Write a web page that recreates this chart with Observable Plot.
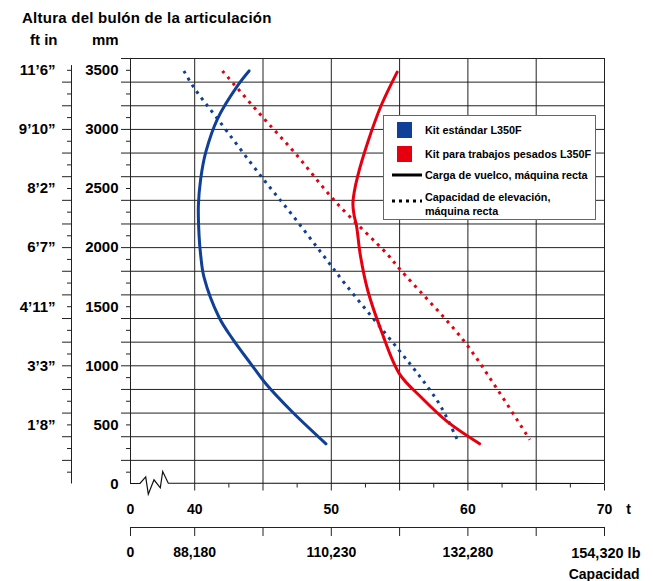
<!DOCTYPE html>
<html><head><meta charset="utf-8">
<script src="https://cdn.jsdelivr.net/npm/d3@7"></script>
<script src="https://cdn.jsdelivr.net/npm/@observablehq/plot@0.6"></script>
<style>
body{margin:0;background:#fff;font-family:"Liberation Sans",Arial,sans-serif;}
#wrap{position:relative;width:653px;height:581px;}
#legend{position:absolute;left:383px;top:115px;width:213px;height:105px;border:1px solid #666;background:#fff;font-weight:bold;font-size:10.8px;color:#000;box-sizing:border-box;}
#legend .sw{position:absolute;left:13px;width:15px;height:16px;}
#legend .tx{position:absolute;left:41px;transform:translateY(-50%);line-height:14px;white-space:nowrap;}
#legend svg{position:absolute;left:7px;}
</style></head><body><div id="wrap"></div>
<script>
// ---------- data ----------
const xBreak = 35.3;                       // axis break: shown as "0"
const tGrid = [40, 45, 50, 55, 60, 65, 70];
const tMinor = [42.5, 47.5, 52.5, 57.5, 62.5, 67.5];
const tLabelPos = [xBreak, 40, 50, 60, 70];
const tLabels = ["0", "40", "50", "60", "70"];
const lbTickPos = [xBreak, 40, 45, 50, 55, 60, 65, 70];
const lbLabels = ["0", "88,180", "110,230", "132,280", "154,320"];
const mmGrid = [200,400,600,800,1000,1200,1400,1600,1800,2000,2200,2400,2600,2800,3000,3200,3400,3600];
const mmMinor = [100,300,500,700,900,1100,1300,1500,1700,1900,2100,2300,2500,2700,2900,3100,3300,3500];
const mmLabelPos = [0, 500, 1000, 1500, 2000, 2500, 3000, 3500];
const ftLabelPos = [500, 1000, 1500, 2000, 2500, 3000, 3500];
const ftLabels = ["1’8”", "3’3”", "4’11”", "6’7”", "8’2”", "9’10”", "11’6”"];
const ftAxisTop = 3540;

// Kit estándar, carga de vuelco (solid blue)
const stdTipT  = [43.98, 43.18, 41.67, 40.81, 40.44, 40.27, 40.32, 40.44, 40.68, 41.78, 42.77, 44.11, 45.21, 47.04, 49.61];
const stdTipMm = [3495, 3377, 3090, 2807, 2582, 2356, 2102, 1933, 1750, 1411, 1228, 1017, 848, 622, 340];
// Kit estándar, capacidad de elevación (dotted blue)
const stdLiftT  = [39.21, 39.95, 41.67, 44.97, 47.17, 49.32, 51.1, 53.89, 55.85, 57.07, 58.05, 59.08, 59.32];
const stdLiftMm = [3495, 3352, 3090, 2587, 2272, 1948, 1680, 1284, 1003, 819, 650, 410, 354];
// Kit trabajos pesados, carga de vuelco (solid red)
const hdTipT  = [54.82, 53.65, 52.67, 51.94, 51.68, 51.58, 51.66, 51.85, 52.13, 52.67, 53.65, 54.99, 56.58, 58.54, 60.86];
const hdTipMm = [3485, 3202, 2892, 2610, 2470, 2370, 2280, 2180, 1933, 1637, 1299, 932, 734, 523, 340];
// Kit trabajos pesados, capacidad de elevación (dotted red)
const hdLiftT  = [42.03, 45.08, 47.29, 50.34, 54.14, 54.99, 59.64, 62.21, 64.53];
const hdLiftMm = [3495, 3090, 2807, 2384, 1939, 1821, 1220, 791, 374];

const BLUE = "#0f3f96", RED = "#e6000f", GRID = "#222";
const rows = (ts, ms) => ts.map((t, i) => ({t, mm: ms[i]}));
const tMap = new Map(tLabelPos.map((d, i) => [d, tLabels[i]]));
const lbMap = new Map(tLabelPos.map((d, i) => [d, lbLabels[i]]));
const ftMap = new Map(ftLabelPos.map((d, i) => [d, ftLabels[i]]));

// axis-break zigzag (pixel offsets of the break symbol)
const breakShape = [[0,0],[10,0],[15.7,-6.7],[18.3,10.7],[24,-3.7],[30.3,4.3],[32.7,-12],[38.3,-0.3]];
function bottomLine(index, {x, y}) {
  const x0 = x(xBreak), y0 = y(0);
  const pts = breakShape.map(([a, b]) => [x0 + a, y0 + b]);
  pts.push([x(70), y0]);
  return d3.create("svg:path").attr("d", d3.line()(pts)).attr("fill", "none")
    .attr("stroke", "#111").attr("stroke-width", 1.2).node();
}

const bold = {fontWeight: "bold", label: null};
const noText = {fill: "none", label: null};
const chart = Plot.plot({
  width: 653, height: 581,
  marginLeft: 130, marginRight: 49, marginTop: 58, marginBottom: 97.5,
  x: {domain: [xBreak, 70], label: null},
  y: {domain: [0, 3600], label: null},
  style: {fontFamily: "Liberation Sans, Arial, sans-serif", color: "#000", background: "#fff", overflow: "visible"},
  marks: [
    Plot.ruleY(mmGrid, {stroke: GRID, strokeWidth: 1}),
    Plot.ruleX([xBreak, ...tGrid], {stroke: GRID, strokeWidth: 1}),
    bottomLine,
    // mm axis
    Plot.axisY(mmGrid, {anchor: "left", tickSize: 9, stroke: GRID, ...noText}),
    Plot.axisY(mmMinor, {anchor: "left", tickSize: 4, stroke: GRID, ...noText}),
    Plot.axisY(mmLabelPos, {anchor: "left", tickSize: 0, tickPadding: 12, tickFormat: d => String(d), fontSize: 15, ...bold}),
    // ft-in axis
    Plot.ruleX([xBreak], {y1: 0, y2: ftAxisTop, dx: -59, stroke: GRID}),
    Plot.axisY(mmGrid.filter(d => d < ftAxisTop), {anchor: "left", tickSize: 9, dx: -59, stroke: GRID, ...noText}),
    Plot.axisY(mmMinor, {anchor: "left", tickSize: 4, dx: -59, stroke: GRID, ...noText}),
    Plot.axisY(ftLabelPos, {anchor: "left", tickSize: 0, tickPadding: 16, dx: -59, tickFormat: d => ftMap.get(d), fontSize: 15, ...bold}),
    // t axis
    Plot.axisX(tGrid, {anchor: "bottom", tickSize: 7, stroke: GRID, ...noText}),
    Plot.axisX(tMinor, {anchor: "bottom", tickSize: 4, stroke: GRID, ...noText}),
    Plot.axisX(tLabelPos, {anchor: "bottom", tickSize: 0, tickPadding: 20, tickFormat: d => tMap.get(d), fontSize: 14, ...bold}),
    Plot.text(["t"], {x: 70, frameAnchor: "bottom", dx: 24, dy: 30, fontSize: 14, fontWeight: "bold"}),
    // lb axis
    Plot.ruleY([0], {x1: xBreak, x2: 70, dy: 43.5, stroke: GRID}),
    Plot.axisX(lbTickPos, {anchor: "bottom", tickSize: 9, dy: 43.5, stroke: GRID, ...noText}),
    Plot.axisX(tLabelPos.slice(0, 4), {anchor: "bottom", tickSize: 0, tickPadding: 20, dy: 43.5, tickFormat: d => lbMap.get(d), fontSize: 14, ...bold}),
    Plot.text([lbLabels[4] + " lb"], {x: 70, frameAnchor: "bottom", dx: 36, dy: 73.5, textAnchor: "end", fontSize: 14.5, fontWeight: "bold"}),
    Plot.text(["Capacidad"], {x: 70, frameAnchor: "bottom", dx: 35, dy: 95, textAnchor: "end", fontSize: 14, fontWeight: "bold"}),
    // curves
    Plot.line(rows(stdLiftT, stdLiftMm), {x: "t", y: "mm", stroke: BLUE, strokeWidth: 3, strokeDasharray: "3,5", strokeLinecap: "butt", curve: "catmull-rom"}),
    Plot.line(rows(hdLiftT, hdLiftMm), {x: "t", y: "mm", stroke: RED, strokeWidth: 3, strokeDasharray: "3,5", strokeLinecap: "butt", curve: "catmull-rom"}),
    Plot.line(rows(stdTipT, stdTipMm), {x: "t", y: "mm", stroke: BLUE, strokeWidth: 3, curve: "catmull-rom"}),
    Plot.line(rows(hdTipT, hdTipMm), {x: "t", y: "mm", stroke: RED, strokeWidth: 3, curve: "catmull-rom"})
  ]
});

const svg = d3.select(chart);
const hdr = [["Altura del bulón de la articulación", 22, 23, 0.25], ["ft in", 30, 45, 0], ["mm", 92, 45, 0]];
hdr.forEach(([s, x, y, ls]) => svg.append("text").attr("x", x).attr("y", y).attr("text-anchor", "start")
  .attr("font-size", 15).attr("letter-spacing", ls).attr("font-weight", "bold").attr("fill", "#000").text(s));

const wrap = document.getElementById("wrap");
wrap.appendChild(chart);

const legend = document.createElement("div");
legend.id = "legend";
legend.innerHTML = `
  <div class="sw" style="top:6px;background:${BLUE}"></div>
  <div class="tx" style="top:14px">Kit estándar L350F</div>
  <div class="sw" style="top:30px;background:${RED}"></div>
  <div class="tx" style="top:38px">Kit para trabajos pesados L350F</div>
  <svg width="32" height="6" style="top:56px"><line x1="1" x2="31" y1="3" y2="3" stroke="#000" stroke-width="3"/></svg>
  <div class="tx" style="top:59px">Carga de vuelco, máquina recta</div>
  <svg width="32" height="6" style="top:82px"><line x1="1" x2="31" y1="3" y2="3" stroke="#000" stroke-width="3" stroke-dasharray="3,4"/></svg>
  <div class="tx" style="top:88px">Capacidad de elevación,<br>máquina recta</div>`;
wrap.appendChild(legend);
</script></body></html>
